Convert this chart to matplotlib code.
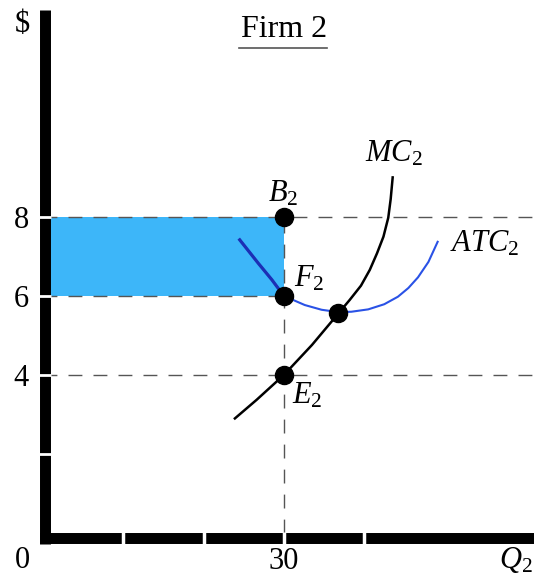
import matplotlib
matplotlib.use("Agg")
import matplotlib.pyplot as plt

plt.rcParams.update({
    "font.family": "Liberation Serif",
    "mathtext.fontset": "custom",
    "mathtext.rm": "Liberation Serif",
    "mathtext.it": "Liberation Serif:italic",
    "font.size": 22,
})

# firm 2 at its output choice
q_out = 30
price = 8        # B2
atc_at_q = 6     # F2
mc_at_q = 4      # E2
atc_min = (36.8, 5.57)

mc_q = [23.9, 26.6, 30.0, 33.5, 36.8, 38.2, 39.6, 40.7, 41.6, 42.4, 43.0, 43.3, 43.55]
mc_p = [2.90, 3.37, 4.0, 4.76, 5.56, 5.90, 6.26, 6.66, 7.08, 7.50, 7.98, 8.45, 9.0]

atc_q = [24.5, 26.8, 28.5, 30.0, 32.6, 34.7, 36.8, 38.4, 40.5, 42.5, 44.2, 45.5, 46.7, 48.0, 49.15]
atc_p = [7.42, 6.83, 6.41, 6.0, 5.77, 5.65, 5.59, 5.60, 5.66, 5.79, 5.98, 6.20, 6.47, 6.86, 7.37]

yticks = [2, 4, 6, 8]
ytick_labels = ["", "4", "6", "8"]
xticks = [10, 20, 30, 40]
xtick_labels = ["", "", "30", ""]

DASH = "#555555"
SHADE = "#3db6f9"

fig = plt.figure(figsize=(5.34, 5.82), dpi=100)
ax = fig.add_axes([0, 0, 1, 1])
ax.set_xlim(-5.355, 61.15)
ax.set_ylim(-1.24, 13.49)

# thick axes with white notches at the ticks
for s in ("top", "right"):
    ax.spines[s].set_visible(False)
for s in ("left", "bottom"):
    ax.spines[s].set_linewidth(7.9)
    ax.spines[s].set_capstyle("butt")
    ax.spines[s].set_color("black")
    ax.spines[s].set_zorder(2.2)
ax.spines["left"].set_position(("data", 0.31))
ax.spines["left"].set_bounds(-0.28, 13.24)
ax.spines["bottom"].set_position(("data", -0.127))
ax.spines["bottom"].set_bounds(-0.37, 61.2)
ax.xaxis.set_zorder(2.8)
ax.yaxis.set_zorder(2.8)

ax.set_yticks(yticks, ytick_labels)
ax.set_xticks(xticks, xtick_labels)
ax.tick_params(direction="inout", length=8, width=2.5, color="white", labelcolor="black")
ax.tick_params(axis="y", pad=7.9, width=2.0)
ax.tick_params(axis="x", pad=2.2)

# profit rectangle
ax.fill_between([0, q_out], atc_at_q, price, color=SHADE, lw=0, zorder=0.5)

# guide lines
dash = dict(color=DASH, lw=1.0, dashes=(10, 8), zorder=1)
ax.plot([0, 61.2], [price, price], **dash)
ax.plot([0, 61.2], [mc_at_q, mc_at_q], **dash)
ax.plot([0, q_out], [atc_at_q, atc_at_q], **dash)
ax.plot([q_out, q_out], [0, price], **dash)

# cost curves
ax.plot(mc_q, mc_p, color="black", lw=1.8, zorder=3, solid_joinstyle="round")
ax.plot(atc_q, atc_p, color="#2a52e6", lw=1.5, zorder=3, solid_joinstyle="round")
ax.plot(atc_q[:4], atc_p[:4], color="#1c2fb5", lw=2.3, zorder=3, solid_joinstyle="round")

ax.plot([q_out, q_out, q_out, atc_min[0]], [price, atc_at_q, mc_at_q, atc_min[1]],
        "o", ms=13, color="black", zorder=5)

# labels
ax.text(-2.62, 12.86, "$", ha="center", va="center", fontsize=22)
ax.text(30.0, 12.55, "Firm 2", ha="center", va="baseline", fontsize=23)
ax.plot([24.4, 35.4], [12.28, 12.28], color="#555555", lw=1.2)
ax.text(40.1, 9.40, "$MC_2$", ha="left", va="baseline")
ax.text(28.0, 8.39, "$B_2$", ha="left", va="baseline")
ax.text(50.7, 7.12, "$ATC_2$", ha="left", va="baseline")
ax.text(31.26, 6.24, "$F_2$", ha="left", va="baseline")
ax.text(30.97, 3.29, "$E_2$", ha="left", va="baseline")
ax.text(-2.62, -0.88, "0", ha="center", va="baseline")
ax.text(56.8, -0.88, "$Q_2$", ha="left", va="baseline")

fig.savefig("out.png", dpi=100)
